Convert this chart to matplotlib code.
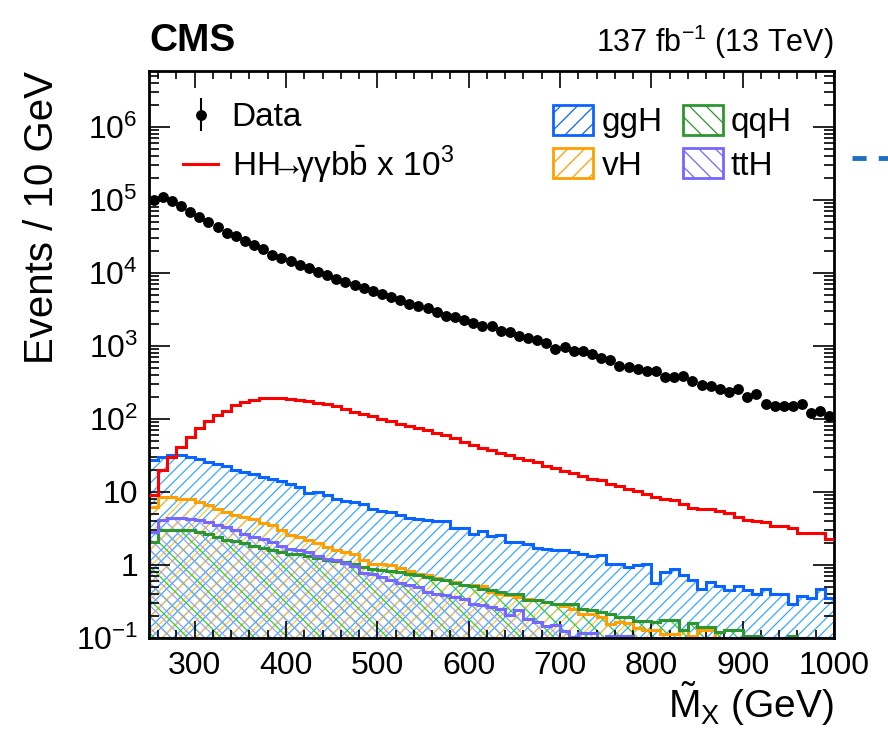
import numpy as np
import matplotlib
matplotlib.use('Agg')
import matplotlib.pyplot as plt
from matplotlib.patches import Patch
from matplotlib.lines import Line2D
from matplotlib.ticker import MultipleLocator, FixedLocator, FixedFormatter, LogLocator, NullFormatter

plt.rcParams['font.family'] = ['Liberation Sans', 'DejaVu Sans']
plt.rcParams['mathtext.fontset'] = 'custom'
plt.rcParams['mathtext.rm'] = 'Liberation Sans'
plt.rcParams['mathtext.it'] = 'Liberation Sans:italic'
plt.rcParams['mathtext.default'] = 'regular'
plt.rcParams['hatch.linewidth'] = 0.9

# 10 GeV bins from 250 to 1000 GeV
edges = np.arange(250, 1001, 10)
centers = edges[:-1] + 5

data = [98000, 110000, 95000, 83000, 69000, 59000, 49000, 42000, 35500, 31600,
        26900, 24000, 20900, 17800, 16200, 14500, 12600, 11500, 10200, 9300,
        8300, 7400, 6800, 6200, 5600, 5100, 4700, 4200, 3800, 3500,
        3300, 2900, 2600, 2450, 2240, 2040, 1860, 1860, 1620, 1550,
        1350, 1290, 1200, 1100, 910, 955, 850, 850, 780, 680,
        645, 525, 515, 480, 457, 457, 370, 370, 390, 330,
        295, 280, 257, 235, 257, 200, 220, 162, 150, 150,
        150, 162, 120, 129, 110]

hh = [9, 20, 30, 41, 57, 76, 94, 112, 130, 155,
      170, 182, 192, 196, 192, 188, 182, 174, 166, 159,
      150, 138, 125, 116, 110, 101, 94, 86, 80, 74,
      70, 65, 60, 54, 48, 44, 40.5, 38, 34, 32.5,
      29.5, 27.5, 25.3, 23, 21, 19.4, 18.2, 16.6, 15.2, 14.6,
      13.0, 12.0, 11.1, 10.3, 9.5, 8.6, 8.1, 7.7, 6.9, 6.1,
      5.9, 5.9, 5.5, 5.2, 4.6, 4.1, 4.0, 3.9, 3.4, 3.4,
      3.2, 2.7, 2.7, 2.7, 2.3]

ggh = [27.7, 30.2, 31.8, 31.8, 30.2, 28.6, 25.8, 24.4, 22.5, 20.2,
       18.8, 17.5, 16.1, 15.2, 14.2, 13.0, 11.7, 9.8, 10.0, 9.0,
       8.1, 7.5, 7.3, 6.9, 5.9, 5.5, 5.3, 4.9, 4.45, 4.3,
       4.1, 4.0, 4.0, 3.25, 3.25, 2.63, 2.92, 2.47, 2.55, 2.07,
       2.07, 1.96, 1.73, 1.67, 1.62, 1.59, 1.51, 1.43, 1.31, 1.36,
       1.02, 1.04, 0.94, 0.99, 1.02, 0.57, 0.80, 0.89, 0.72, 0.62,
       0.47, 0.585, 0.51, 0.46, 0.52, 0.45, 0.40, 0.47, 0.405, 0.40,
       0.29, 0.38, 0.357, 0.47, 0.357]

vh = [6.2, 8.4, 8.4, 8.1, 7.9, 7.3, 6.6, 5.9, 5.3, 4.8,
      4.5, 4.2, 3.8, 3.5, 3.05, 2.55, 2.42, 2.22, 2.0, 1.77,
      1.59, 1.51, 1.40, 1.18, 1.02, 1.03, 0.99, 0.92, 0.83, 0.76,
      0.72, 0.67, 0.62, 0.585, 0.54, 0.53, 0.51, 0.43, 0.40, 0.385,
      0.365, 0.346, 0.33, 0.31, 0.29, 0.27, 0.25, 0.216, 0.21, 0.194,
      0.157, 0.165, 0.16, 0.139, 0.13, 0.127, 0.115, 0.115, 0.127, 0.108,
      0.127, 0.127, 0, 0, 0, 0, 0, 0, 0, 0,
      0, 0, 0, 0, 0]

qqh = [2.07, 3.0, 3.05, 3.05, 3.0, 2.83, 2.63, 2.42, 2.22, 2.13,
       2.0, 1.80, 1.73, 1.62, 1.51, 1.43, 1.40, 1.31, 1.26, 1.16,
       1.13, 1.10, 1.02, 0.94, 0.89, 0.86, 0.83, 0.80, 0.76, 0.72,
       0.685, 0.65, 0.62, 0.57, 0.54, 0.51, 0.47, 0.45, 0.43, 0.405,
       0.40, 0.335, 0.33, 0.31, 0.295, 0.29, 0.295, 0.25, 0.24, 0.227,
       0.216, 0.194, 0.194, 0.17, 0.17, 0.166, 0.175, 0.175, 0.128, 0.16,
       0.142, 0.142, 0.121, 0.128, 0.128, 0.108, 0.108, 0, 0, 0,
       0.105, 0, 0, 0, 0]

tth = [2.83, 4.1, 4.45, 4.45, 4.3, 4.1, 3.9, 3.5, 3.3, 3.0,
       2.69, 2.42, 2.3, 2.07, 1.80, 1.67, 1.59, 1.51, 1.31, 1.22,
       1.16, 1.07, 0.96, 0.78, 0.76, 0.69, 0.63, 0.57, 0.54, 0.50,
       0.43, 0.405, 0.385, 0.365, 0.346, 0.295, 0.28, 0.266, 0.25, 0.205,
       0.244, 0.18, 0.168, 0.145, 0.15, 0.125, 0.103, 0.117, 0.117, 0.1,
       0.105, 0.108, 0.108, 0, 0, 0, 0.101, 0, 0, 0,
       0, 0, 0, 0, 0, 0, 0, 0, 0, 0,
       0, 0, 0, 0, 0]

ymin, ymax = 0.1, 5.8e6

fig = plt.figure(figsize=(8.88, 7.39), dpi=100)
ax = fig.add_axes([149/888, 101/739, 685/888, 567/739])

# name, values, line colour, hatch colour, hatch
procs = [('ggH', ggh, '#0a64ff', '#3aa8ff', '///'),
         ('vH', vh, '#ffa000', '#ffc83a', '//'),
         ('qqH', qqh, '#2e962e', '#33cc33', '\\\\'),
         ('ttH', tth, '#7468ff', '#a0a0ff', '\\\\\\')]

for name, vals, lc, hc, hatch in procs:
    v = np.maximum(np.array(vals, dtype=float), ymin)
    ax.stairs(v, edges, baseline=1e-3, fill=True, facecolor='none',
              edgecolor=hc, hatch=hatch, linewidth=0, zorder=1)

handles2 = []
for name, vals, lc, hc, hatch in procs:
    v = np.maximum(np.array(vals, dtype=float), ymin)
    ax.stairs(v, edges, baseline=None, color=lc, linewidth=2.2, zorder=2)
    handles2.append(Patch(facecolor='none', edgecolor=lc, hatch=hatch[:2],
                          linewidth=2, label=name))

ax.stairs(hh, edges, baseline=None, color='#ff0000', linewidth=2.2, zorder=3)
hh_handle = Line2D([], [], color='#ff0000', linewidth=2.2)

data = np.array(data, dtype=float)
eb = ax.errorbar(centers, data, yerr=np.sqrt(data), fmt='o', color='black',
                 markersize=6.8, elinewidth=1.5, capsize=0, zorder=4)

ax.set_yscale('log')
ax.set_xlim(250, 1000)
ax.set_ylim(ymin, ymax)

ax.xaxis.set_major_locator(MultipleLocator(100))
ax.xaxis.set_minor_locator(MultipleLocator(20))
ax.yaxis.set_major_locator(FixedLocator([0.1, 1, 10, 1e2, 1e3, 1e4, 1e5, 1e6]))
ax.yaxis.set_major_formatter(FixedFormatter(['$10^{-1}$', '1', '10', '$10^{2}$', '$10^{3}$',
                                             '$10^{4}$', '$10^{5}$', '$10^{6}$']))
ax.yaxis.set_minor_locator(LogLocator(base=10, subs=np.arange(2, 10), numticks=20))
ax.yaxis.set_minor_formatter(NullFormatter())

ax.tick_params(which='both', direction='in', top=True, right=True, labelsize=23)
ax.tick_params(axis='x', which='major', length=12, width=1.2, pad=9)
ax.tick_params(axis='x', which='minor', length=6, width=1.2)
ax.tick_params(axis='y', which='major', length=15, width=1.2, pad=8)
ax.tick_params(axis='y', which='minor', length=7, width=1.2)
for s in ax.spines.values():
    s.set_linewidth(2)

ax.set_ylabel('Events / 10 GeV', fontsize=29, loc='top')
ax.yaxis.set_label_coords(-0.128, 1.0)
ax.set_xlabel(r'$\tilde{M}_{X}$ (GeV)', fontsize=28, loc='right')
ax.xaxis.set_label_coords(1.0, -0.072)

ax.text(0.0, 1.022, 'CMS', transform=ax.transAxes, fontsize=28,
        fontweight='bold', ha='left', va='bottom')
ax.text(1.0, 1.018, r'137 fb$^{-1}$ (13 TeV)', transform=ax.transAxes,
        fontsize=22, ha='right', va='bottom')

hh_label = r'HH$\!\!\!\rightarrow\!\!\!$γγb$\bar{b}$ x 10$^{3}$'
leg1 = ax.legend([eb, hh_handle], ['Data', hh_label],
                 loc='upper left', bbox_to_anchor=(0.05, 0.945), frameon=False,
                 fontsize=24, handlelength=1.05, handletextpad=0.4,
                 labelspacing=0.3, borderpad=0, borderaxespad=0)
ax.add_artist(leg1)
ax.legend(handles=handles2, loc='upper left', bbox_to_anchor=(0.59, 0.94),
          ncol=2, frameon=False, fontsize=24, handlelength=1.2, handleheight=1.0,
          handletextpad=0.25, columnspacing=0.6, labelspacing=0.3,
          borderpad=0, borderaxespad=0)

# blue dashes at the right margin
fig.add_artist(Line2D([852/888, 1.0], [1 - 158/739, 1 - 158/739],
                      transform=fig.transFigure, color='#1f6fc0', linewidth=3.5,
                      linestyle=(0, (2.9, 2.5))))

fig.savefig('out.png', dpi=100)
